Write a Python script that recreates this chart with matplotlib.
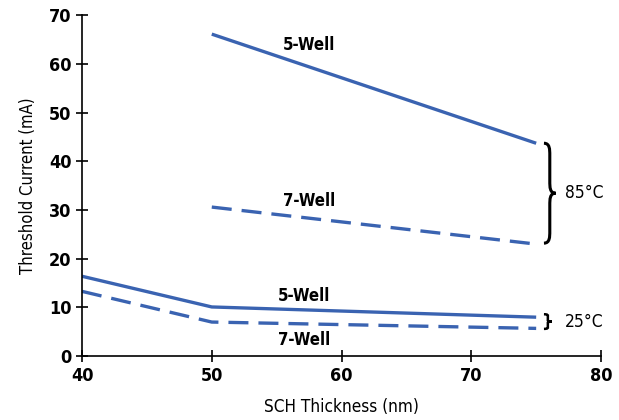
import matplotlib
matplotlib.use("Agg")
import matplotlib.pyplot as plt
from matplotlib.path import Path
from matplotlib.patches import PathPatch

# threshold current vs SCH thickness, two well counts at two temperatures
x_hot = [50, 75]
hot_5well = [66.1, 43.7]
hot_7well = [30.6, 23.0]

x_cold = [40, 50, 75]
cold_5well = [16.4, 10.1, 8.0]
cold_7well = [13.3, 7.0, 5.7]

x_ticks = [40, 50, 60, 70, 80]
y_ticks = [0, 10, 20, 30, 40, 50, 60, 70]

BLUE = "#3a63b1"
plt.rcParams["font.family"] = ["DejaVu Sans"]
plt.rcParams["font.stretch"] = "condensed"


def brace(ax, x, y0, y1, w, lw=1.8):
    # right-facing curly brace from y0 to y1 at x, tip width w (data units)
    ym = (y0 + y1) / 2
    h = y1 - y0
    k = h * 0.06
    verts = [
        (x, y1),
        (x + w * 0.5, y1), (x + w * 0.5, y1 - k), (x + w * 0.5, y1 - 2 * k),
        (x + w * 0.5, ym + 2 * k),
        (x + w * 0.5, ym + k), (x + w * 0.5, ym), (x + w, ym),
        (x + w * 0.5, ym), (x + w * 0.5, ym - k), (x + w * 0.5, ym - 2 * k),
        (x + w * 0.5, y0 + 2 * k),
        (x + w * 0.5, y0 + k), (x + w * 0.5, y0), (x, y0),
    ]
    codes = [Path.MOVETO,
             Path.CURVE4, Path.CURVE4, Path.CURVE4,
             Path.LINETO,
             Path.CURVE4, Path.CURVE4, Path.CURVE4,
             Path.CURVE4, Path.CURVE4, Path.CURVE4,
             Path.LINETO,
             Path.CURVE4, Path.CURVE4, Path.CURVE4]
    ax.add_patch(PathPatch(Path(verts, codes), fill=False, lw=lw,
                           color="black", clip_on=False))


fig = plt.figure(figsize=(6.19, 4.2), dpi=100)
ax = fig.add_axes([0.1325, 0.152, 0.8385, 0.812])

dash = (0, (6, 3))
ax.plot(x_hot, hot_5well, color=BLUE, lw=2.4, solid_capstyle="butt")
ax.plot(x_hot, hot_7well, color=BLUE, lw=2.4, linestyle=dash)
ax.plot(x_cold, cold_5well, color=BLUE, lw=2.4, solid_capstyle="butt")
ax.plot(x_cold, cold_7well, color=BLUE, lw=2.4, linestyle=dash)

lab = dict(fontsize=12, fontweight="bold", ha="center", va="center")
ax.text(57.5, 63.8, "5-Well", **lab)
ax.text(57.5, 31.8, "7-Well", **lab)
ax.text(57.1, 12.4, "5-Well", **lab)
ax.text(57.1, 3.4, "7-Well", **lab)

brace(ax, 75.6, 23.2, 43.7, 0.9, lw=2.2)
brace(ax, 75.6, 5.6, 8.6, 0.6)
ax.text(77.2, 33.4, "85\u00b0C", fontsize=12.5, ha="left", va="center")
ax.text(77.2, 7.0, "25\u00b0C", fontsize=12.5, ha="left", va="center")

ax.set_xlim(40, 80)
ax.set_ylim(0, 70)
ax.set_xticks(x_ticks)
ax.set_yticks(y_ticks)
ax.tick_params(direction="inout", length=8, width=1.2, labelsize=13)
for t in ax.get_xticklabels() + ax.get_yticklabels():
    t.set_fontweight("bold")
ax.spines["top"].set_visible(False)
ax.spines["right"].set_visible(False)
ax.spines["left"].set_linewidth(1.2)
ax.spines["bottom"].set_linewidth(1.2)

ax.set_xlabel("SCH Thickness (nm)", fontsize=12.3, labelpad=10)
ax.set_ylabel("Threshold Current (mA)", fontsize=12, labelpad=9)

fig.savefig("out.png", dpi=100)
